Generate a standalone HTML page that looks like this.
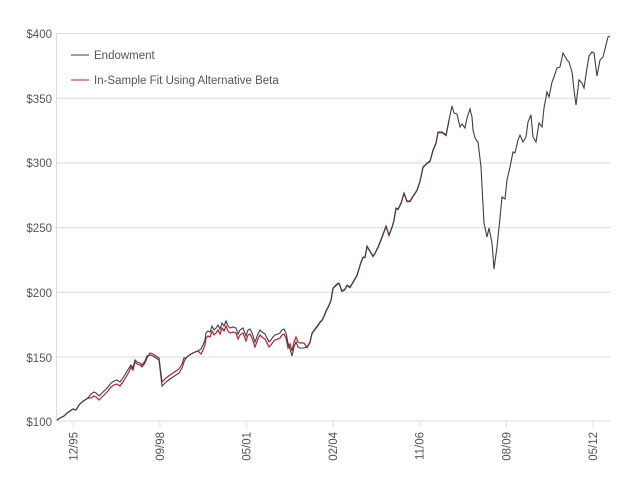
<!DOCTYPE html>
<html><head><meta charset="utf-8"><style>
body{margin:0;background:#fff;}
svg text{font-family:"Liberation Sans",sans-serif;fill:#555;font-size:11.5px;}
</style></head><body>
<svg id="s" width="635" height="491" xmlns="http://www.w3.org/2000/svg">
<g stroke="#dcdcdc" stroke-width="1">
<line x1="56" y1="33.5" x2="611" y2="33.5"/>
<line x1="56" y1="98.2" x2="611" y2="98.2"/>
<line x1="56" y1="162.9" x2="611" y2="162.9"/>
<line x1="56" y1="227.6" x2="611" y2="227.6"/>
<line x1="56" y1="292.3" x2="611" y2="292.3"/>
<line x1="56" y1="357" x2="611" y2="357"/>
<line x1="56" y1="421" x2="611" y2="421"/>
<line x1="56.5" y1="33" x2="56.5" y2="421"/>
</g>
<g text-anchor="end">
<text x="52" y="38">$400</text><text x="52" y="103">$350</text><text x="52" y="167">$300</text>
<text x="52" y="232">$250</text><text x="52" y="297">$200</text><text x="52" y="362">$150</text><text x="52" y="426">$100</text>
</g>
<g id="ticks" stroke="#dcdcdc"></g>
<g id="xl" text-anchor="end"></g>
<line x1="71" y1="55" x2="89" y2="55" stroke="#444" stroke-width="1"/>
<text x="94" y="59">Endowment</text>
<line x1="71" y1="80" x2="89" y2="80" stroke="#b5202e" stroke-width="1"/>
<text x="94" y="84">In-Sample Fit Using Alternative Beta</text>
<polyline id="r" fill="none" stroke="#b5202e" stroke-width="1.2"/>
<polyline id="e" fill="none" stroke="#3a3f44" stroke-width="1.1"/>
</svg>
<script>
var P=[[57,420],[60,418],[64,416],[67,413],[70,411],[73,409],[76,410],[79,405],[82,402],[85,400],[88,398],[91,394],[94,392],[96,393],[99,396],[102,393],[105,390],[108,387],[111,383],[114,381],[117,380],[120,382],[123,378],[126,373],[129,368],[131,365],[133,368],[135,360],[137,362],[140,363],[142,365],[145,361],[147,356],[150,355],[153,356],[156,358],[159,360],[162,386],[166,382],[170,379],[173,377],[176,375],[179,373],[182,368],[184,362],[186,358],[188,356],[191,354],[195,352],[198,351],[201,349],[203,345],[205,340],[206,333],[208,331],[210,332],[212,326],[214,330],[216,328],[218,325],[220,329],[222,323],[224,326],[226,321],[228,326],[230,328],[233,327],[236,328],[238,334],[240,330],[243,328],[246,336],[248,330],[250,329],[252,333],[255,342],[258,334],[260,330],[262,332],[265,334],[267,338],[269,342],[271,340],[273,337],[275,335],[278,334],[280,333],[282,330],[284,329],[286,333],[288,343],[290,349],[292,356],[294,347],[296,342],[298,347],[300,348],[304,348],[307,347],[310,342],[312,333],[315,329],[318,325],[320,322],[322,320],[324,316],[326,311],[329,305],[331,300],[333,288],[337,284],[339,283],[342,291],[345,289],[347,285],[350,287],[353,282],[357,275],[361,262],[363,257],[365,257],[367,246],[370,251],[373,256],[375,253],[378,247],[382,237],[386,226],[389,235],[392,227],[394,220],[396,208],[398,209],[401,203],[404,193],[407,201],[410,201],[413,196],[417,190],[420,181],[423,167],[427,163],[430,161],[433,150],[436,143],[438,132],[442,132],[446,135],[449,120],[452,106],[454,113],[457,114],[460,127],[462,124],[465,128],[467,118],[470,109],[472,117],[473,130],[475,138],[477,141],[478,142],[481,167],[484,223],[487,237],[489,228],[492,243],[494,269],[497,247],[500,218],[502,197],[505,199],[507,180],[510,167],[513,152],[515,153],[518,140],[520,135],[523,142],[526,137],[528,122],[531,115],[533,137],[536,142],[539,123],[542,127],[544,108],[547,92],[549,97],[552,82],[554,77],[557,68],[560,67],[563,53],[567,60],[569,62],[572,72],[574,90],[576,105],[579,80],[582,83],[584,88],[587,68],[589,56],[592,52],[594,53],[597,76],[600,60],[603,57],[605,49],[608,37],[610,36]];
function dy(x){if(x<90)return 0;if(x<130)return 4;if(x<150)return 2;if(x<162)return -2;if(x<185)return -4;if(x<200)return 0;if(x<290)return 5;if(x<305)return -5;return 0.6;}
document.getElementById('e').setAttribute('points',P.map(p=>p.join(',')).join(' '));
document.getElementById('r').setAttribute('points',P.filter(p=>p[0]<=449).map(p=>p[0]+','+(p[1]+dy(p[0]))).join(' '));
var L=['12/95','09/98','05/01','02/04','11/06','08/09','05/12'],t='',l='';
L.forEach(function(s,i){var x=73.3+86.6*i;t+='<line x1="'+x+'" y1="421" x2="'+x+'" y2="427"/>';
l+='<text transform="translate('+(x+4)+',432) rotate(-90)">'+s+'</text>';});
document.getElementById('ticks').innerHTML=t;document.getElementById('xl').innerHTML=l;
</script>
</body></html>
